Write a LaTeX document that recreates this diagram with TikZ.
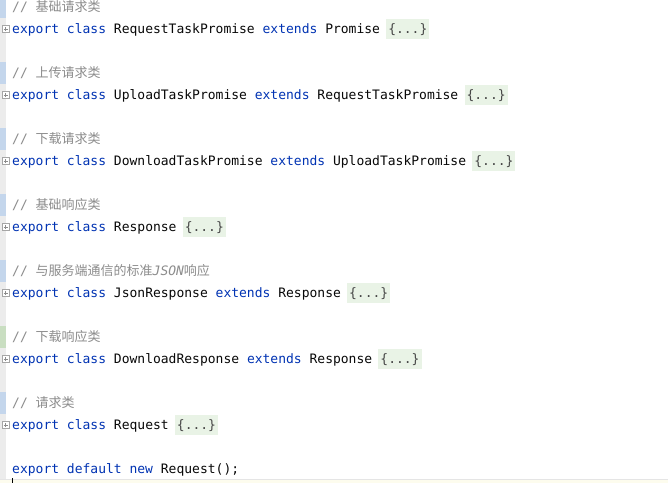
\documentclass[tikz,border=0pt]{standalone}
\usepackage{fontspec}
\setmonofont{DejaVu Sans Mono}
\newfontfamily\cjk{Noto Sans CJK SC}
\usepackage{tikz}
\usetikzlibrary{positioning}

\definecolor{kwblue}{RGB}{0,51,179}
\definecolor{codeblack}{RGB}{8,8,8}
\definecolor{cmtgray}{RGB}{140,140,140}
\definecolor{foldgreen}{RGB}{233,243,230}
\definecolor{gutter}{RGB}{236,236,236}
\definecolor{gutterblue}{RGB}{196,214,236}
\definecolor{guttergreen}{RGB}{201,222,193}
\definecolor{caretline}{RGB}{253,252,238}

\newcommand{\kw}[1]{\textcolor{kwblue}{#1}}

\begin{document}
\begin{tikzpicture}[x=1pt,y=-1pt,
    code/.style={anchor=base west,inner sep=0pt,text=codeblack,font=\ttfamily\fontsize{13}{15}\selectfont},
    cmt/.style={code,text=cmtgray},
    foldbox/.style={anchor=base west,fill=foldgreen,text=codeblack!75,inner xsep=2pt,inner ysep=0pt,
        text height=14.5pt,text depth=5.5pt,font=\ttfamily\fontsize{13}{15}\selectfont,xshift=5.8pt},
    foldmark/.style={draw=black!35,fill=white,line width=0.5pt,minimum size=7pt,inner sep=0pt,
        path picture={\draw[black!45,line width=0.5pt]
            ([xshift=1.5pt]path picture bounding box.west) -- ([xshift=-1.5pt]path picture bounding box.east)
            ([yshift=-1.5pt]path picture bounding box.north) -- ([yshift=1.5pt]path picture bounding box.south);}}]
            \useasboundingbox[fill=white] (0,0) rectangle (668,483);

            \fill[caretline] (0,479) rectangle (668,483);
            \draw[black!10,line width=0.4pt] (0,479) -- (668,479);
            \fill[gutter] (0,0) rectangle (6,479);
            \fill[gutterblue] (0,0) rectangle (6,18);
            \fill[gutterblue] (0,62) rectangle (6,84);
            \fill[gutterblue] (0,128) rectangle (6,150);
            \fill[gutterblue] (0,194) rectangle (6,216);
            \fill[gutterblue] (0,260) rectangle (6,282);
            \fill[guttergreen] (0,326) rectangle (6,348);
            \fill[gutterblue] (0,392) rectangle (6,414);

            \node[cmt] (c1) at (12,11.5) {// {\cjk 基础请求类}};
            \node[code] (l1) at (12,33.5) {\kw{export class} RequestTaskPromise \kw{extends} Promise};
            \node[foldbox] (b1) at (l1.base east) {\{...\}};

            \node[cmt] (c2) at (12,77.5) {// {\cjk 上传请求类}};
            \node[code] (l2) at (12,99.5) {\kw{export class} UploadTaskPromise \kw{extends} RequestTaskPromise};
            \node[foldbox] (b2) at (l2.base east) {\{...\}};

            \node[cmt] (c3) at (12,143.5) {// {\cjk 下载请求类}};
            \node[code] (l3) at (12,165.5) {\kw{export class} DownloadTaskPromise \kw{extends} UploadTaskPromise};
            \node[foldbox] (b3) at (l3.base east) {\{...\}};

            \node[cmt] (c4) at (12,209.5) {// {\cjk 基础响应类}};
            \node[code] (l4) at (12,231.5) {\kw{export class} Response};
            \node[foldbox] (b4) at (l4.base east) {\{...\}};

            \node[cmt] (c5) at (12,275.5) {// {\cjk 与服务端通信的标准}{\itshape JSON}{\cjk 响应}};
            \node[code] (l5) at (12,297.5) {\kw{export class} JsonResponse \kw{extends} Response};
            \node[foldbox] (b5) at (l5.base east) {\{...\}};

            \node[cmt] (c6) at (12,341.5) {// {\cjk 下载响应类}};
            \node[code] (l6) at (12,363.5) {\kw{export class} DownloadResponse \kw{extends} Response};
            \node[foldbox] (b6) at (l6.base east) {\{...\}};

            \node[cmt] (c7) at (12,407.5) {// {\cjk 请求类}};
            \node[code] (l7) at (12,429.5) {\kw{export class} Request};
            \node[foldbox] (b7) at (l7.base east) {\{...\}};

            \node[code] (l8) at (12,473.5) {\kw{export default new} Request();};

            \node[foldmark] (f1) at (5.5,29) {};
            \node[foldmark] (f2) at (5.5,95) {};
            \node[foldmark] (f3) at (5.5,161) {};
            \node[foldmark] (f4) at (5.5,227) {};
            \node[foldmark] (f5) at (5.5,293) {};
            \node[foldmark] (f6) at (5.5,359) {};
            \node[foldmark] (f7) at (5.5,425) {};

            \draw[black,line width=1pt] (12,478) -- (12,483);
            \end{tikzpicture}
\end{document}
